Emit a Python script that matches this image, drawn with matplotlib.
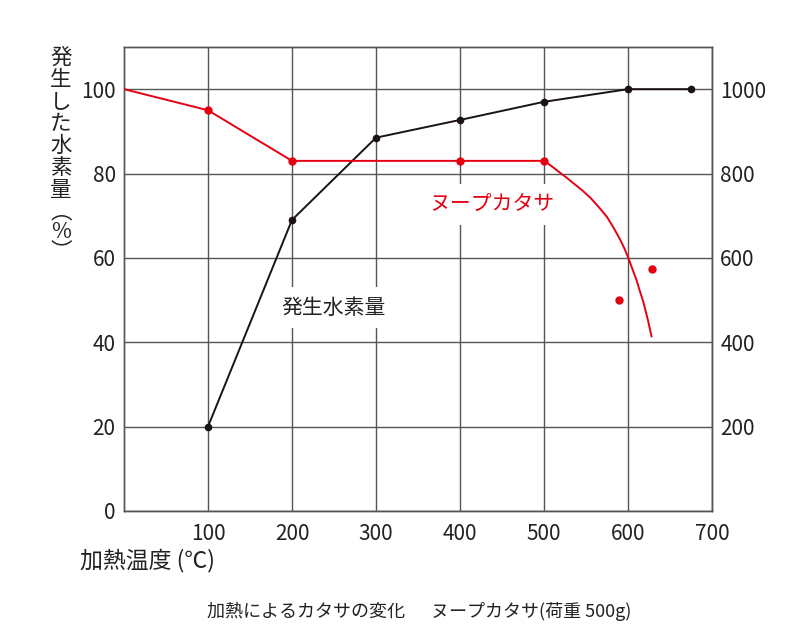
import matplotlib
matplotlib.use('Agg')
import matplotlib.pyplot as plt

plt.rcParams['font.family'] = ['Noto Sans CJK JP', 'DejaVu Sans']

# 発生水素量 (%)
h2_temp = [100, 200, 300, 400, 500, 600, 675]
h2_pct = [20, 69, 88.5, 92.7, 97, 100, 100]

# ヌープカタサ (右軸)
hard_temp = [0, 100, 200, 400, 500]
hard_val = [1000, 950, 830, 830, 830]
# 500℃以降の曲線
curve_temp = [500, 510, 519, 527, 535, 545, 555, 565, 575, 583, 591, 596, 600, 605, 610, 614, 618, 621, 624, 626, 628]
curve_val = [830, 816, 802, 790, 777, 761, 743, 721, 697, 671, 642, 621, 602, 575, 548, 522, 497, 474, 450, 432, 414]
# 単独点
dot_temp = [589, 629]
dot_val = [499, 574]

red = '#e60012'
black = '#1a1311'
grid_c = '#555555'

fig = plt.figure(figsize=(8, 6.4), dpi=100)
ax = fig.add_axes([0.155, 0.2016, 0.735, 0.725])
ax2 = ax.twinx()

ax.set_xlim(0, 700)
ax.set_ylim(0, 110)
ax2.set_ylim(0, 1100)

ax.set_xticks([100, 200, 300, 400, 500, 600, 700])
ax.set_yticks([0, 20, 40, 60, 80, 100])
ax2.set_yticks([200, 400, 600, 800, 1000])
ax.grid(True, color=grid_c, linewidth=1.0)
ax.set_axisbelow(True)
for a in (ax, ax2):
    a.tick_params(length=0, labelsize=15, colors='#222222')
    for s in a.spines.values():
        s.set_color(grid_c)
        s.set_linewidth(1.0)
ax.tick_params(axis='x', pad=9)
ax.tick_params(axis='y', pad=6)
ax2.tick_params(axis='y', pad=6)

ax.plot(h2_temp, h2_pct, color=black, linewidth=1.4, marker='o', markersize=4.5, zorder=3)

ax2.plot(hard_temp, hard_val, color=red, linewidth=1.4, marker='o', markersize=5,
         markevery=[1, 2, 3, 4], zorder=3)
ax2.plot(curve_temp, curve_val, color=red, linewidth=1.4, zorder=3)
ax2.plot(dot_temp, dot_val, color=red, linestyle='none', marker='o', markersize=5, zorder=3)

ax2.text(250, 482, '発生水素量', fontsize=15, color='#222222', ha='center', va='center',
         bbox=dict(facecolor='white', edgecolor='none', pad=7), zorder=2)
ax2.text(438, 727, 'ヌープカタサ', fontsize=15, color=red, ha='center', va='center',
         bbox=dict(facecolor='white', edgecolor='none', pad=7), zorder=2)

fig.text(0.076, 0.806, '発\n生\nし\nた\n水\n素\n量', fontsize=15.5, color='#222222',
         ha='center', va='center', linespacing=1.0)
fig.text(0.076, 0.638, '︵\n%\n︶', fontsize=15.5, color='#222222',
         ha='center', va='center', linespacing=0.85)
fig.text(0.1, 0.125, '加熱温度 (℃)', fontsize=16.5, color='#222222', ha='left', va='center')
fig.text(0.524, 0.044, '加熱によるカタサの変化　  ヌープカタサ(荷重 500g)', fontsize=13,
         color='#222222', ha='center', va='center')

fig.savefig('out.png', dpi=100)
